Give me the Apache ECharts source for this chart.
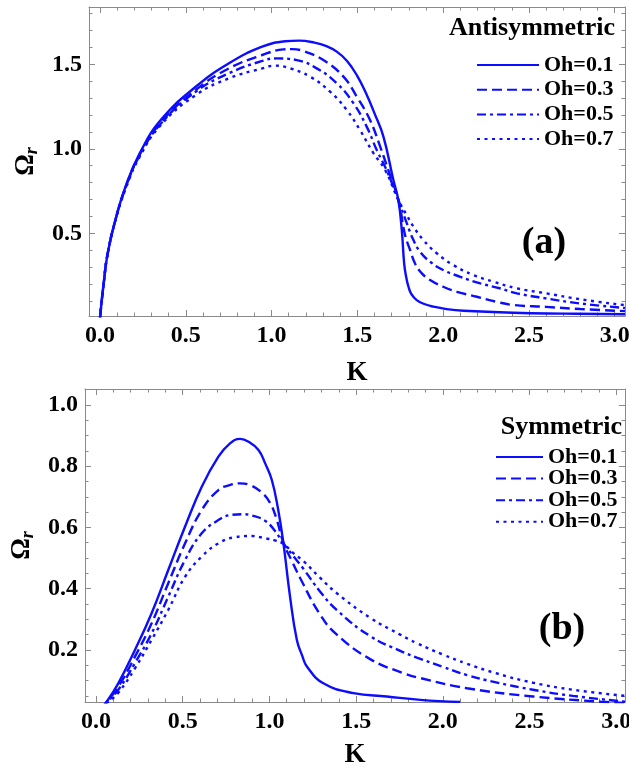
<!DOCTYPE html>
<html>
<head>
<meta charset="utf-8">
<script src="https://cdn.jsdelivr.net/npm/echarts@6/dist/echarts.min.js"></script>
<style>
html,body{margin:0;padding:0;background:#fff;}
#chart{width:629px;height:769px;}
</style>
</head>
<body>
<div id="chart"></div>
<script>
// ---------- DATA ----------
var seriesNames = ['Oh=0.1', 'Oh=0.3', 'Oh=0.5', 'Oh=0.7'];

// Panel (a) Antisymmetric
var kA1 = [0, 0.01, 0.02, 0.043, 0.09, 0.15, 0.23, 0.354, 0.558, 0.752, 0.945, 1.08, 1.16, 1.25, 1.32, 1.38, 1.44, 1.5, 1.55, 1.6, 1.652, 1.71, 1.739, 1.759, 1.773, 1.785, 1.798, 1.815, 1.846, 1.89, 1.944, 2.02, 2.12, 2.41, 2.7, 3.06];
var wA1 = [0, 0.10, 0.19, 0.37, 0.58, 0.78, 0.97, 1.17, 1.367, 1.506, 1.604, 1.636, 1.64, 1.628, 1.607, 1.575, 1.52, 1.43, 1.33, 1.21, 1.072, 0.815, 0.697, 0.52, 0.32, 0.24, 0.184, 0.14, 0.105, 0.082, 0.066, 0.052, 0.042, 0.030, 0.025, 0.021];

var kA3 = [0, 0.01, 0.02, 0.043, 0.09, 0.15, 0.23, 0.354, 0.558, 0.752, 0.946, 1.069, 1.12, 1.186, 1.302, 1.419, 1.497, 1.574, 1.633, 1.68, 1.739, 1.778, 1.808, 1.837, 1.876, 1.924, 2.0, 2.08, 2.196, 2.31, 2.41, 2.6, 2.8, 3.06];
var wA3 = [0, 0.10, 0.19, 0.37, 0.58, 0.775, 0.963, 1.155, 1.348, 1.476, 1.555, 1.588, 1.59, 1.578, 1.525, 1.427, 1.308, 1.17, 1.013, 0.875, 0.697, 0.49, 0.40, 0.32, 0.263, 0.224, 0.184, 0.154, 0.125, 0.095, 0.076, 0.065, 0.052, 0.04];

var kA5 = [0, 0.01, 0.02, 0.043, 0.09, 0.15, 0.23, 0.354, 0.558, 0.752, 0.946, 1.03, 1.147, 1.263, 1.38, 1.477, 1.555, 1.613, 1.67, 1.739, 1.788, 1.827, 1.866, 1.924, 2.0, 2.1, 2.216, 2.33, 2.43, 2.6, 2.8, 3.06];
var wA5 = [0, 0.10, 0.19, 0.37, 0.58, 0.772, 0.958, 1.148, 1.338, 1.447, 1.52, 1.535, 1.525, 1.476, 1.388, 1.27, 1.13, 0.993, 0.875, 0.697, 0.56, 0.46, 0.39, 0.332, 0.283, 0.243, 0.204, 0.175, 0.145, 0.115, 0.085, 0.058];

var kA7 = [0, 0.01, 0.02, 0.043, 0.09, 0.15, 0.23, 0.354, 0.558, 0.752, 0.946, 1.02, 1.108, 1.224, 1.341, 1.438, 1.516, 1.594, 1.662, 1.739, 1.788, 1.827, 1.885, 1.963, 2.06, 2.177, 2.293, 2.43, 2.6, 2.8, 3.06];
var wA7 = [0, 0.10, 0.19, 0.37, 0.575, 0.765, 0.95, 1.14, 1.318, 1.417, 1.476, 1.492, 1.476, 1.427, 1.338, 1.23, 1.11, 0.974, 0.875, 0.697, 0.608, 0.54, 0.46, 0.382, 0.312, 0.253, 0.214, 0.175, 0.145, 0.11, 0.075];

// Panel (b) Symmetric
var kS1 = [0.03, 0.062, 0.129, 0.225, 0.321, 0.417, 0.514, 0.61, 0.706, 0.77, 0.831, 0.88, 0.937, 0.975, 1.014, 1.05, 1.081, 1.119, 1.158, 1.19, 1.216, 1.311, 1.485, 1.677, 1.87, 2.1];
var wS1 = [0.012, 0.031, 0.091, 0.2, 0.32, 0.461, 0.603, 0.733, 0.831, 0.873, 0.889, 0.88, 0.853, 0.81, 0.755, 0.66, 0.548, 0.374, 0.233, 0.18, 0.146, 0.091, 0.059, 0.048, 0.037, 0.03];

var kS3 = [0.03, 0.062, 0.129, 0.225, 0.321, 0.417, 0.514, 0.61, 0.706, 0.77, 0.831, 0.89, 0.956, 1.004, 1.04, 1.081, 1.13, 1.177, 1.293, 1.389, 1.581, 1.773, 1.87, 2.139, 2.52, 2.91, 3.05];
var wS3 = [0.01, 0.03, 0.08, 0.178, 0.287, 0.418, 0.548, 0.657, 0.722, 0.738, 0.744, 0.738, 0.714, 0.68, 0.63, 0.55, 0.49, 0.435, 0.315, 0.25, 0.17, 0.124, 0.108, 0.075, 0.048, 0.031, 0.027];

var kS5 = [0.03, 0.062, 0.129, 0.225, 0.321, 0.417, 0.514, 0.61, 0.706, 0.77, 0.84, 0.9, 0.975, 1.03, 1.081, 1.14, 1.196, 1.293, 1.389, 1.581, 1.754, 1.85, 2.0, 2.139, 2.3, 2.52, 2.75, 3.05];
var wS5 = [0.008, 0.028, 0.07, 0.157, 0.254, 0.374, 0.494, 0.581, 0.624, 0.64, 0.643, 0.639, 0.622, 0.59, 0.548, 0.505, 0.465, 0.39, 0.33, 0.245, 0.197, 0.175, 0.145, 0.118, 0.095, 0.07, 0.05, 0.031];

var kS7 = [0.03, 0.062, 0.129, 0.225, 0.321, 0.417, 0.514, 0.61, 0.706, 0.802, 0.898, 0.98, 1.03, 1.081, 1.14, 1.196, 1.293, 1.389, 1.581, 1.754, 1.85, 2.0, 2.139, 2.3, 2.52, 2.75, 3.05];
var wS7 = [0.006, 0.025, 0.06, 0.14, 0.233, 0.331, 0.439, 0.505, 0.548, 0.568, 0.572, 0.564, 0.558, 0.546, 0.515, 0.49, 0.435, 0.385, 0.305, 0.25, 0.222, 0.185, 0.155, 0.125, 0.093, 0.07, 0.05];

// Tick labels
var kTicks = [0.0, 0.5, 1.0, 1.5, 2.0, 2.5, 3.0];
var yTicksA = [0.5, 1.0, 1.5];
var yTicksB = [0.2, 0.4, 0.6, 0.8, 1.0];

// ---------- CHART ----------
function zip(k, w) { return k.map(function (v, i) { return [v, w[i]]; }); }
function minorList(start, end, step, majors) {
  var out = [];
  for (var i = 0; start + i * step <= end + 1e-9; i++) {
    var v = +(start + i * step).toFixed(3);
    var isMajor = majors.some(function (m) { return Math.abs(m - v) < 1e-6; });
    if (!isMajor) out.push(v);
  }
  return out;
}

var FONT = '"Liberation Serif", "Times New Roman", serif';
var FRAME = '#8a8a8a';
var BLUE = '#0c0cff';

var xAxes = [], yAxes = [];
function addFrame(g, xr, yr, xMajor, xMinor, yMajor, yMinor, xLabelMargin, yLabelMargin, xNameGap, yNameGap) {
  var base = function (min, max) {
    return { gridIndex: g, type: 'value', min: min, max: max, splitLine: { show: false }, silent: true };
  };
  function mk(dim, pos, ticks, len, labeled, line) {
    var r = dim === 'x' ? xr : yr;
    var a = base(r[0], r[1]);
    a.position = pos;
    a.axisLine = { show: line, onZero: false, lineStyle: { color: FRAME, width: 1 } };
    a.axisTick = { show: true, inside: true, length: len, customValues: ticks, lineStyle: { color: FRAME, width: 1 } };
    if (labeled) {
      a.axisLabel = {
        show: true, customValues: ticks, formatter: function (v) { return v.toFixed(1); },
        margin: dim === 'x' ? xLabelMargin : yLabelMargin, color: '#000',
        fontFamily: FONT, fontWeight: 'bold', fontSize: 24
      };
      if (dim === 'x') {
        a.name = 'K';
        a.nameLocation = 'middle';
        a.nameGap = xNameGap;
        a.nameTextStyle = { fontFamily: FONT, fontWeight: 'bold', fontSize: 27, color: '#000' };
      } else {
        a.name = '{o|\u03A9}{s|r}';
        a.nameLocation = 'middle';
        a.nameRotate = 90;
        a.nameGap = yNameGap;
        a.nameTextStyle = {
          color: '#000',
          rich: {
            o: { fontFamily: FONT, fontWeight: 'bold', fontSize: 27, lineHeight: 30, color: '#000' },
            s: { fontFamily: FONT, fontWeight: 'bold', fontStyle: 'italic', fontSize: 18, lineHeight: 14, verticalAlign: 'bottom', color: '#000' }
          }
        };
      }
    } else {
      a.axisLabel = { show: false };
    }
    return a;
  }
  var idx = { x: xAxes.length, y: yAxes.length };
  xAxes.push(mk('x', 'bottom', xMajor, 6, true, true));
  xAxes.push(mk('x', 'bottom', xMinor, 3.5, false, false));
  xAxes.push(mk('x', 'top', xMajor, 6, false, true));
  xAxes.push(mk('x', 'top', xMinor, 3.5, false, false));
  yAxes.push(mk('y', 'left', yMajor, 6, true, true));
  yAxes.push(mk('y', 'left', yMinor, 3.5, false, false));
  yAxes.push(mk('y', 'right', yMajor, 6, false, true));
  yAxes.push(mk('y', 'right', yMinor, 3.5, false, false));
  return idx;
}

var xMinor = minorList(0, 3.0, 0.1, kTicks);
var iA = addFrame(0, [-0.064, 3.06], [0.011, 1.839], kTicks, xMinor, yTicksA, minorList(0.1, 1.8, 0.1, yTicksA), 8, 7, 44, 48);
var iB = addFrame(1, [-0.063, 3.05], [0.03, 1.052], kTicks, xMinor, yTicksB, minorList(0.05, 1.05, 0.05, yTicksB), 8, 7, 40, 48);

var dashes = ['solid', [10, 5], [9, 4, 3, 4], [3, 4.5]];
function mkSeries(name, k, w, di, idx) {
  return {
    name: name, type: 'line', data: zip(k, w),
    xAxisIndex: idx.x, yAxisIndex: idx.y,
    showSymbol: false, symbol: 'none', smooth: 0.45,
    lineStyle: { color: BLUE, width: 2.4, type: dashes[di] },
    itemStyle: { color: BLUE },
    animation: false, silent: true, clip: true
  };
}

var series = [
  mkSeries(seriesNames[0], kA1, wA1, 0, iA),
  mkSeries(seriesNames[1], kA3, wA3, 1, iA),
  mkSeries(seriesNames[2], kA5, wA5, 2, iA),
  mkSeries(seriesNames[3], kA7, wA7, 3, iA),
  mkSeries(seriesNames[0], kS1, wS1, 0, iB),
  mkSeries(seriesNames[1], kS3, wS3, 1, iB),
  mkSeries(seriesNames[2], kS5, wS5, 2, iB),
  mkSeries(seriesNames[3], kS7, wS7, 3, iB)
];

var legendText = { fontFamily: FONT, fontWeight: 'bold', fontSize: 22, color: '#000' };
var chart = echarts.init(document.getElementById('chart'));
chart.setOption({
  animation: false,
  backgroundColor: '#fff',
  grid: [
    { left: 89, top: 7, width: 536, height: 309, containLabel: false, outerBoundsMode: 'none' },
    { left: 85, top: 389, width: 540, height: 313, containLabel: false, outerBoundsMode: 'none' }
  ],
  xAxis: xAxes,
  yAxis: yAxes,
  legend: [
    { data: seriesNames, orient: 'vertical', left: 476, top: 54, itemWidth: 62, itemHeight: 14, itemGap: 2.7,
      padding: 0, selectedMode: false, itemStyle: { opacity: 0 },
      textStyle: Object.assign({ lineHeight: 20 }, legendText) },
    { data: seriesNames, orient: 'vertical', left: 495, top: 446, itemWidth: 47, itemHeight: 14, itemGap: -0.4,
      padding: 0, selectedMode: false, itemStyle: { opacity: 0 },
      textStyle: Object.assign({ lineHeight: 18 }, legendText) }
  ],
  graphic: [
    { type: 'text', x: 615, y: 28, style: { text: 'Antisymmetric', font: 'bold 26px ' + FONT, textAlign: 'right', textVerticalAlign: 'middle', fill: '#000' } },
    { type: 'text', x: 622, y: 427, style: { text: 'Symmetric', font: 'bold 26px ' + FONT, textAlign: 'right', textVerticalAlign: 'middle', fill: '#000' } },
    { type: 'text', x: 544, y: 243, style: { text: '(a)', font: 'bold 38px ' + FONT, textAlign: 'center', textVerticalAlign: 'middle', fill: '#000' } },
    { type: 'text', x: 562, y: 629, style: { text: '(b)', font: 'bold 38px ' + FONT, textAlign: 'center', textVerticalAlign: 'middle', fill: '#000' } }
  ],
  series: series
});
</script>
</body>
</html>
